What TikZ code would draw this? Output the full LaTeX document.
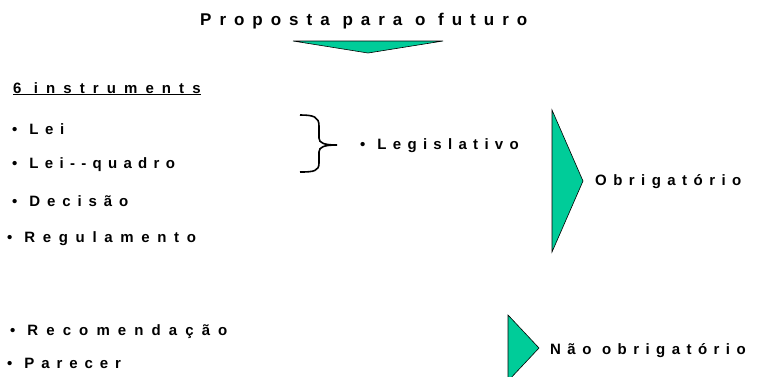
\documentclass[tikz,border=0pt]{standalone}
\usepackage{fontspec}
\newfontfamily\spaced{Liberation Sans}[LetterSpace=47]
\newcommand{\bul}{•\hspace{12pt}}
\newcommand{\ls}[1]{\addfontfeature{LetterSpace=#1}}
\definecolor{arrowgreen}{RGB}{0,204,153}

\begin{document}
\begin{tikzpicture}[x=1pt,y=-1pt,
   every node/.style={font=\spaced\bfseries\fontsize{15}{18}\selectfont, inner sep=0pt},
   item/.style={anchor=base west},
   pointer/.style={fill=arrowgreen, draw=black, line width=0.6pt, line join=miter}]

\useasboundingbox (0,0) rectangle (765,376);
\clip (0,0) rectangle (765,376);

\node[item, font=\spaced\bfseries\fontsize{17}{20}\selectfont\ls{47}]
   (title) at (200,25) {Proposta para o futuro};
\draw[pointer] (293,41) -- (443,41) -- (368,53) -- cycle;

\node[item] (heading) at (13,93) {\ls{54}\underline{6 instruments}};

\node[item] (lei)     at (12,134) {\bul\ls{44}Lei};
\node[item] (quadro)  at (12,168) {\bul\ls{42}Lei-{}-quadro};
\node[item] (decisao) at (12,206) {\bul\ls{46}Decisão};
\node[item] (regul)   at (7,242)  {\bul\ls{51}Regulamento};

\draw[line width=1.6pt] (300,115) .. controls (314,115) and (319,117) .. (319,126)
   -- (319,138) .. controls (319,143) and (324,145) .. (337,145)
   .. controls (324,145) and (319,147) .. (319,152)
   -- (319,163) .. controls (319,171) and (314,172) .. (300,172);
\node[item] (legis) at (360,149) {\bul\ls{42}Legislativo};

\draw[pointer] (552,110) -- (583,181) -- (552,252) -- cycle;
\node[item] (obrig) at (595,185) {\ls{43}Obrigatório};

\node[item] (recom)   at (10,335) {\bul\ls{54}Recomendação};
\node[item] (parecer) at (7,368)  {\bul\ls{46}Parecer};

\draw[pointer] (508,315) -- (539,348) -- (508,381) -- cycle;
\node[item] (naoobrig) at (550,354) {\ls{43}Não obrigatório};

\end{tikzpicture}
\end{document}
